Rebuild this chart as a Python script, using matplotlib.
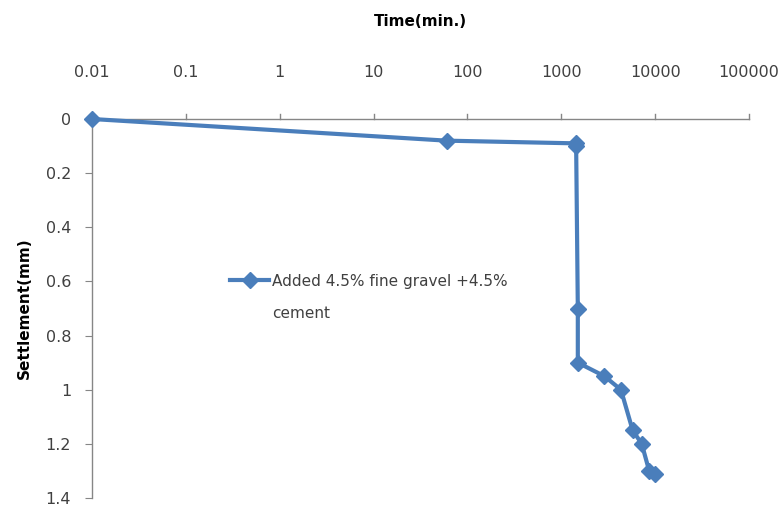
import numpy as np
import matplotlib
matplotlib.use('Agg')
import matplotlib.pyplot as plt
from matplotlib.ticker import FixedLocator, FixedFormatter, NullLocator

# Datos
tiempo = [0.01, 60, 1440, 1440, 1500, 1500, 2880, 4320, 5760, 7200, 8640, 10080]
asiento = [0.0, 0.08, 0.09, 0.1, 0.7, 0.9, 0.95, 1.0, 1.15, 1.2, 1.3, 1.31]
serie = ['Added 4.5% fine gravel +4.5%', 'cement']
xticks = [0.01, 0.1, 1, 10, 100, 1000, 10000, 100000]
xlabels = ['0.01', '0.1', '1', '10', '100', '1000', '10000', '100000']
yticks = [0, 0.2, 0.4, 0.6, 0.8, 1, 1.2, 1.4]
ylabels = ['0', '0.2', '0.4', '0.6', '0.8', '1', '1.2', '1.4']

azul = '#4a7ebb'
gris = '#868686'
texto = '#404040'

fig = plt.figure(figsize=(7.83, 5.15), dpi=100)
ax = fig.add_axes([92/783, 1-498/515, (749-92)/783, (498-119)/515])

ax.plot(tiempo, asiento, color=azul, lw=3, marker='D', ms=8.5,
        mec=azul, mfc=azul, label=serie[0], clip_on=False, zorder=3)

ax.set_xscale('log')
ax.set_xlim(0.01, 100000)
ax.set_ylim(1.4, 0)
ax.xaxis.set_major_locator(FixedLocator(xticks))
ax.xaxis.set_major_formatter(FixedFormatter(xlabels))
ax.xaxis.set_minor_locator(NullLocator())
ax.yaxis.set_major_locator(FixedLocator(yticks))
ax.yaxis.set_major_formatter(FixedFormatter(ylabels))

ax.xaxis.tick_top()
ax.xaxis.set_label_position('top')
for s in ['bottom', 'right']:
    ax.spines[s].set_visible(False)
for s in ['top', 'left']:
    ax.spines[s].set_color(gris)
    ax.spines[s].set_linewidth(1)

ax.tick_params(axis='x', direction='in', length=0, pad=28,
               labelsize=11.5, labelcolor=texto)
ax.tick_params(axis='y', direction='out', length=5, color=gris, pad=10,
               labelsize=11.5, labelcolor=texto)
# marcas del eje x hacia arriba (sin la de 0.01)
for xt in xticks[1:]:
    ax.plot([xt, xt], [0, -0.02], color=gris, lw=1, clip_on=False)

ax.set_xlabel('Time(min.)', fontsize=11, fontweight='bold', labelpad=28)
ax.set_ylabel('Settlement(mm)', fontsize=11, fontweight='bold', labelpad=10)

leg = ax.legend(loc='upper left', bbox_to_anchor=(222/783, 1-266/515),
                bbox_transform=fig.transFigure, frameon=False, fontsize=11,
                handlelength=2.6, handletextpad=0.2, borderpad=0)
for t in leg.get_texts():
    t.set_color(texto)
# segunda linea de la leyenda
fig.text(272/783, 1-313/515, serie[1], fontsize=11, color=texto,
         ha='left', va='center')

fig.savefig('out.png', dpi=100)
